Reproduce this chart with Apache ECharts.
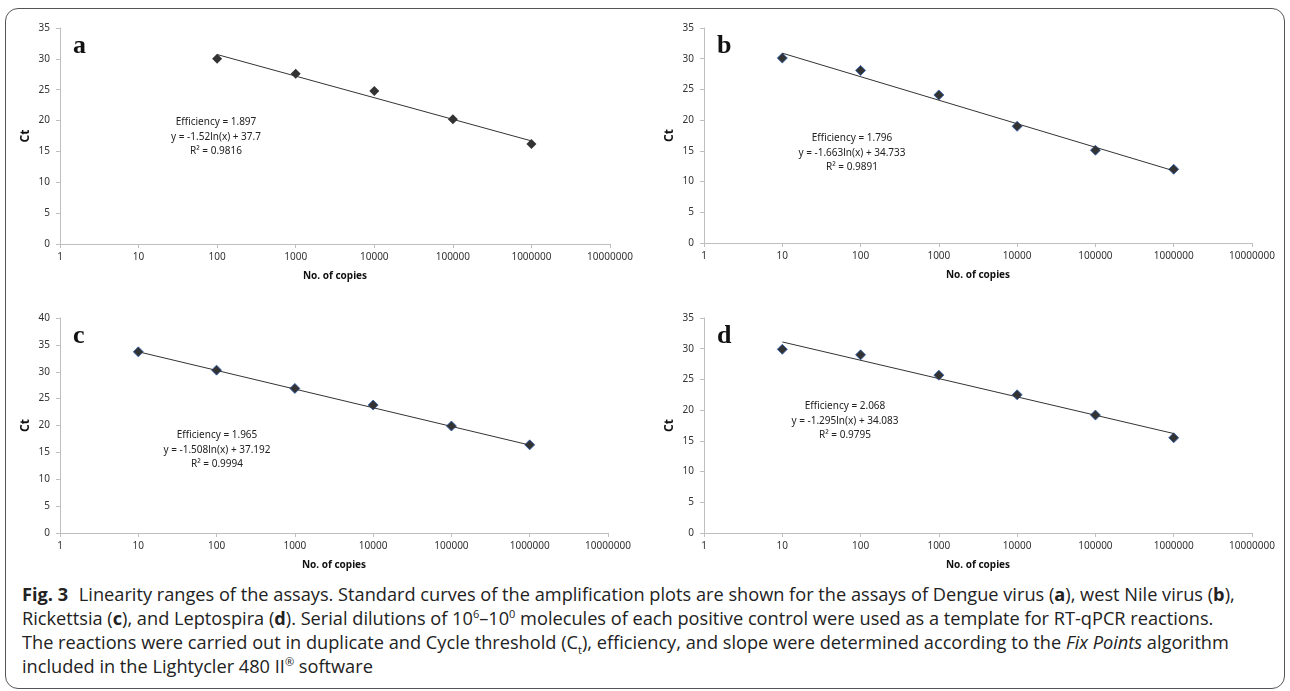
<!DOCTYPE html>
<html>
<head>
<meta charset="utf-8">
<title>Fig. 3 standard curves</title>
<script src="https://cdn.jsdelivr.net/npm/echarts@6/dist/echarts.min.js"></script>
<style>
    html, body {
        margin: 0;
        padding: 0;
        background: #fff;
    }
    #frame {
        position: absolute;
        left: 5px;
        top: 8px;
        width: 1278px;
        height: 679px;
        border: 1.5px solid #555;
        border-radius: 13px;
        pointer-events: none;
    }
    #chart {
        position: absolute;
        left: 0;
        top: 0;
        width: 1290px;
        height: 580px;
    }
    #caption {
        position: absolute;
        left: 22px;
        top: 582px;
        font-family: "Open Sans", "Noto Sans", sans-serif;
        font-size: 18.2px;
        line-height: 24px;
        color: #222;
        white-space: nowrap;
        letter-spacing: 0;
    }
    #caption sup, #caption sub {
        line-height: 0;
        font-size: 11px;
    }
    #caption b.fig {
        margin-right: 6px;
    }
</style>
</head>
<body>
<div id="chart"></div>
<div id="caption">
    <b class="fig">Fig. 3</b> Linearity ranges of the assays. Standard curves of the amplification plots are shown for the assays of Dengue virus (<b>a</b>), west Nile virus (<b>b</b>),<br>
    Rickettsia (<b>c</b>), and Leptospira (<b>d</b>). Serial dilutions of 10<sup>6</sup>–10<sup>0</sup> molecules of each positive control were used as a template for RT-qPCR reactions.<br>
    The reactions were carried out in duplicate and Cycle threshold (C<sub>t</sub>), efficiency, and slope were determined according to the <i>Fix Points</i> algorithm<br>
    included in the Lightycler 480 II<sup>®</sup> software
</div>
<div id="frame"></div>
<script>
    // panel data (copies vs Ct)
    var panelNames = ['a', 'b', 'c', 'd'];
    var copiesA = [100, 1000, 10000, 100000, 1000000];
    var ctA = [30.0, 27.6, 24.8, 20.2, 16.2];
    var copiesB = [10, 100, 1000, 10000, 100000, 1000000];
    var ctB = [30.1, 28.1, 24.1, 19.0, 15.1, 12.0];
    var copiesC = [10, 100, 1000, 10000, 100000, 1000000];
    var ctC = [33.7, 30.3, 26.9, 23.8, 19.9, 16.4];
    var copiesD = [10, 100, 1000, 10000, 100000, 1000000];
    var ctD = [29.9, 29.0, 25.7, 22.5, 19.2, 15.5];

    // log fit y = slope*ln(x) + intercept
    var slopes = [-1.52, -1.663, -1.508, -1.295];
    var intercepts = [37.7, 34.733, 37.192, 34.083];
    var efficiencies = ['1.897', '1.796', '1.965', '2.068'];
    var r2s = ['0.9816', '0.9891', '0.9994', '0.9795'];
    var yMax = [35, 35, 40, 35];

    var copies = [copiesA, copiesB, copiesC, copiesD];
    var cts = [ctA, ctB, ctC, ctD];

    // layout of the four plot areas
    var grids = [
        {left: 60, top: 28, width: 550, height: 216},
        {left: 704, top: 28, width: 548, height: 215},
        {left: 60, top: 318, width: 548, height: 215},
        {left: 704, top: 318, width: 548, height: 215}
    ];
    var noteBoxes = [
        {x: 216, y: 115},
        {x: 852, y: 131},
        {x: 217, y: 428},
        {x: 845, y: 399}
    ];

    var chart = echarts.init(document.getElementById('chart'));
    var axisColor = '#bfbfbf';
    var labelFont = {fontFamily: 'Noto Sans', fontSize: 10, color: '#333'};

    var xAxes = [], yAxes = [], series = [], graphics = [];
    for (var i = 0; i < 4; i++) {
        xAxes.push({
            gridIndex: i,
            type: 'log',
            logBase: 10,
            min: 1,
            max: 10000000,
            name: 'No. of copies',
            nameLocation: 'middle',
            nameGap: 27,
            nameTextStyle: {fontFamily: 'Noto Sans', fontSize: 10, fontWeight: 'bold', color: '#111'},
            axisLine: {lineStyle: {color: axisColor}},
            axisTick: {show: true, inside: false, length: 4, lineStyle: {color: axisColor}},
            minorTick: {show: false},
            splitLine: {show: false},
            axisLabel: Object.assign({margin: 8, formatter: function (v) { return String(Math.round(v)); }}, labelFont)
        });
        yAxes.push({
            gridIndex: i,
            type: 'value',
            min: 0,
            max: yMax[i],
            interval: 5,
            name: 'Ct',
            nameLocation: 'middle',
            nameGap: 28,
            nameRotate: 90,
            nameTextStyle: {fontFamily: 'Noto Sans', fontSize: 12, fontWeight: 'bold', color: '#111'},
            axisLine: {show: true, lineStyle: {color: axisColor}},
            axisTick: {show: true, inside: false, length: 4, lineStyle: {color: axisColor}},
            splitLine: {show: false},
            axisLabel: Object.assign({margin: 10}, labelFont)
        });

        var xs = copies[i], ys = cts[i];
        var pts = xs.map(function (x, k) { return [x, ys[k]]; });
        var x0 = xs[0], x1 = xs[xs.length - 1];
        var fit = [x0, x1].map(function (x) { return [x, slopes[i] * Math.log(x) + intercepts[i]]; });

        series.push({
            type: 'line',
            xAxisIndex: i,
            yAxisIndex: i,
            data: fit,
            symbol: 'none',
            silent: true,
            lineStyle: {color: '#333', width: 1}
        });
        series.push({
            type: 'scatter',
            xAxisIndex: i,
            yAxisIndex: i,
            data: pts,
            symbol: 'diamond',
            symbolSize: 10,
            itemStyle: i === 0 ? {color: '#000'} : {color: '#000', borderColor: '#2a5db0', borderWidth: 1}
        });

        graphics.push({
            type: 'text',
            left: grids[i].left + 13,
            top: grids[i].top + 5,
            style: {text: panelNames[i], font: 'bold 26px "Liberation Serif", serif', fill: '#111'}
        });
        graphics.push({
            type: 'text',
            x: noteBoxes[i].x,
            y: noteBoxes[i].y,
            style: {
                text: 'Efficiency = ' + efficiencies[i] + '\ny = ' + slopes[i] + 'ln(x) + ' + intercepts[i] + '\nR² = ' + r2s[i],
                font: '10px "Noto Sans", sans-serif',
                fill: '#222',
                align: 'center',
                verticalAlign: 'top',
                lineHeight: 14.5
            }
        });
    }

    chart.setOption({
        animation: false,
        grid: grids,
        xAxis: xAxes,
        yAxis: yAxes,
        series: series,
        graphic: graphics
    });
</script>
</body>
</html>
